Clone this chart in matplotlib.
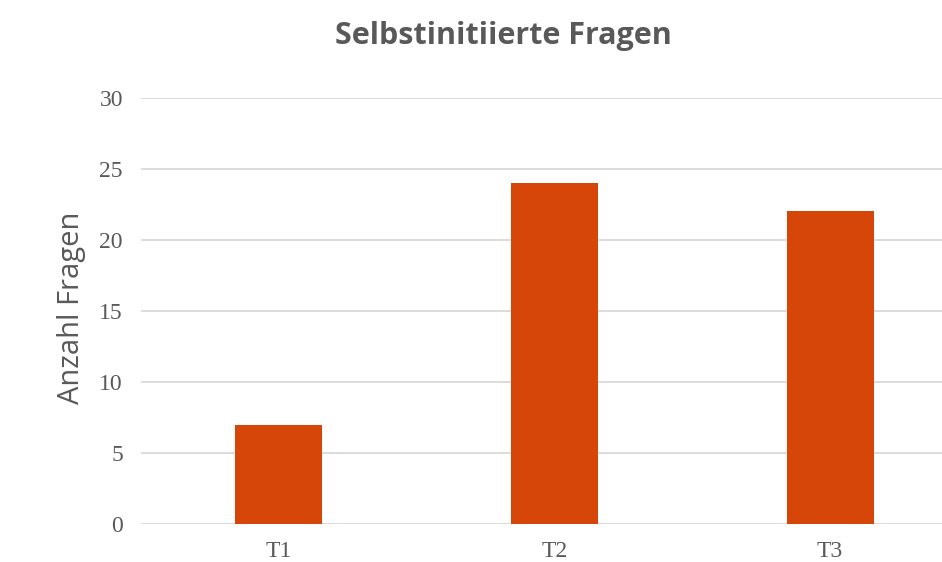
import matplotlib
matplotlib.use("Agg")
import matplotlib.pyplot as plt

categories = ["T1", "T2", "T3"]
values = [7, 24, 22]
yticks = [0, 5, 10, 15, 20, 25, 30]

W, H = 942, 562
fig = plt.figure(figsize=(W / 100, H / 100), dpi=100)
left, right = 141, 968
bottom, top = 524, 97.7
ax = fig.add_axes([left / W, 1 - bottom / H, (right - left) / W, (bottom - top) / H])

ax.bar(range(len(categories)), values, width=0.315, color="#D64608", zorder=3)
ax.set_xlim(-0.5, len(categories) - 0.5)
ax.set_ylim(0, 30)
ax.set_yticks(yticks)
ax.set_xticks(range(len(categories)))
ax.set_xticklabels(categories)
ax.grid(axis="y", color="#D9D9D9", linewidth=1.3, zorder=0)
for s in ax.spines.values():
    s.set_visible(False)
ax.tick_params(length=0, labelsize=17, labelcolor="#595959")
for lbl in ax.get_xticklabels() + ax.get_yticklabels():
    lbl.set_fontfamily("Liberation Serif")
ax.tick_params(axis="y", pad=13)
ax.tick_params(axis="x", pad=12)

fig.text(71 / W, 1 - 308 / H, "Anzahl Fragen", rotation=90, ha="center", va="center",
         fontsize=21, color="#595959", family="Open Sans")
fig.text(503 / W, 1 - 36 / H, "Selbstinitiierte Fragen", ha="center", va="center",
         fontsize=22, fontweight="bold", color="#595959", family="Open Sans")

fig.savefig("out.png", dpi=100)
